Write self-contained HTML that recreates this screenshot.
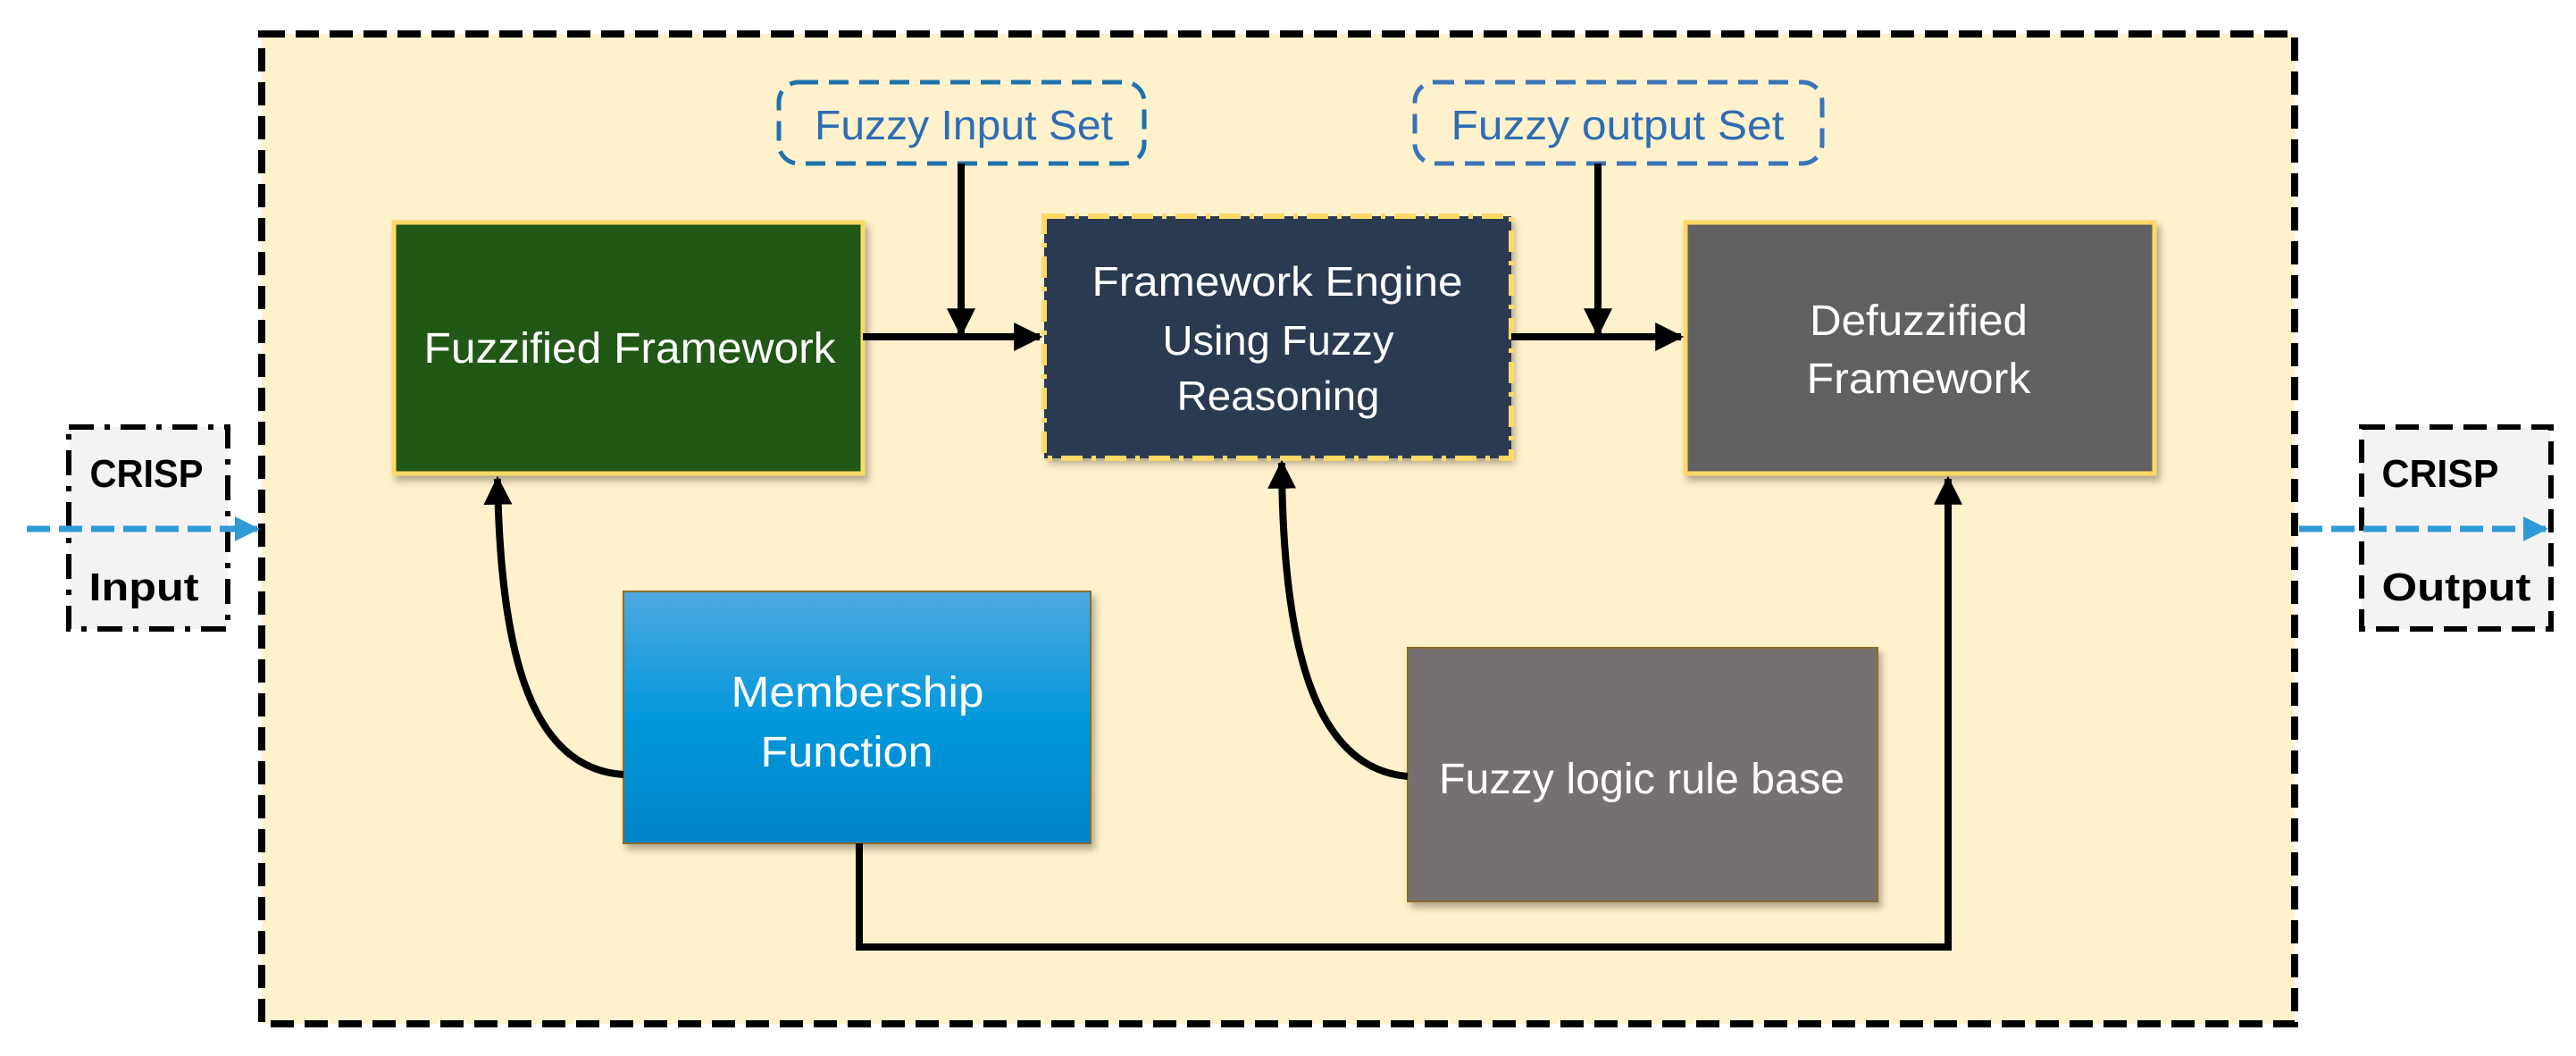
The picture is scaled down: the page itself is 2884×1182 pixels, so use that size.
<!DOCTYPE html>
<html><head><meta charset="utf-8"><style>
html,body{margin:0;padding:0;background:#fff}
svg{display:block}
text{font-family:"Liberation Sans Narrow","Liberation Sans",sans-serif}
</style></head><body>
<svg width="2884" height="1182" viewBox="0 0 2884 1182" xmlns="http://www.w3.org/2000/svg">
<defs>
<linearGradient id="mg" x1="0" y1="0" x2="0" y2="1">
<stop offset="0" stop-color="#4ea7de"/><stop offset="0.5" stop-color="#0399dc"/><stop offset="1" stop-color="#0582c6"/>
</linearGradient>
<marker id="ah" viewBox="0 0 10 10" refX="9" refY="5" markerWidth="4" markerHeight="4.5" orient="auto" markerUnits="strokeWidth"><path d="M0,0 L10,5 L0,10 z" fill="#000"/></marker>
<marker id="ahb" viewBox="0 0 10 10" refX="9" refY="5" markerWidth="4" markerHeight="4" orient="auto" markerUnits="strokeWidth"><path d="M0,0 L10,5 L0,10 z" fill="#2f9ad6"/></marker>
<filter id="sh" x="-5%" y="-5%" width="115%" height="115%"><feDropShadow dx="4" dy="6" stdDeviation="4" flood-color="#000" flood-opacity="0.3"/></filter>
</defs>
<rect x="293" y="38" width="2276" height="1108" fill="#fff1cc" stroke="#000" stroke-width="8" stroke-dasharray="26,12"/>
<rect x="77" y="478" width="178" height="226" fill="#f4f2f2" stroke="#000" stroke-width="6" stroke-dasharray="28,12,6,12"/>
<text x="164" y="545" font-size="44" font-weight="bold" text-anchor="middle" textLength="127" lengthAdjust="spacingAndGlyphs">CRISP</text>
<text x="161" y="672" font-size="44" font-weight="bold" text-anchor="middle" textLength="123" lengthAdjust="spacingAndGlyphs">Input</text>
<rect x="2644" y="478" width="212" height="226" fill="#f4f2f2" stroke="#000" stroke-width="6" stroke-dasharray="26,12"/>
<text x="2732" y="545" font-size="44" font-weight="bold" text-anchor="middle" textLength="131" lengthAdjust="spacingAndGlyphs">CRISP</text>
<text x="2750" y="672" font-size="44" font-weight="bold" text-anchor="middle" textLength="167" lengthAdjust="spacingAndGlyphs">Output</text>
<line x1="30" y1="592" x2="288" y2="592" stroke="#2f9ad6" stroke-width="7" stroke-dasharray="26,10" marker-end="url(#ahb)"/>
<line x1="2574" y1="592" x2="2850" y2="592" stroke="#2f9ad6" stroke-width="7" stroke-dasharray="26,10" marker-end="url(#ahb)"/>
<rect x="872" y="92" width="409" height="91" rx="22" fill="none" stroke="#1f72ac" stroke-width="5" stroke-dasharray="22,12"/>
<text x="1079" y="156" font-size="46" fill="#2e6db4" text-anchor="middle" textLength="334" lengthAdjust="spacingAndGlyphs">Fuzzy Input Set</text>
<rect x="1584" y="92" width="456" height="91" rx="22" fill="none" stroke="#3a74b8" stroke-width="5" stroke-dasharray="22,12"/>
<text x="1811" y="156" font-size="46" fill="#2e6db4" text-anchor="middle" textLength="373" lengthAdjust="spacingAndGlyphs">Fuzzy output Set</text>
<rect x="441" y="249" width="525" height="281" fill="#245919" stroke="#ffd966" stroke-width="5" filter="url(#sh)"/>
<text x="705" y="406" font-size="48" fill="#fff" text-anchor="middle" textLength="461" lengthAdjust="spacingAndGlyphs">Fuzzified Framework</text>
<rect x="1169" y="242" width="523" height="271" fill="#2a3b51" filter="url(#sh)"/>
<rect x="1169" y="242" width="523" height="271" fill="none" stroke="#ffd966" stroke-width="6" stroke-dasharray="24,10,5,10"/>
<text x="1430" y="331" font-size="46" fill="#fff" text-anchor="middle" textLength="415" lengthAdjust="spacingAndGlyphs">Framework Engine</text>
<text x="1431" y="397" font-size="46" fill="#fff" text-anchor="middle" textLength="259" lengthAdjust="spacingAndGlyphs">Using Fuzzy</text>
<text x="1431" y="459" font-size="46" fill="#fff" text-anchor="middle" textLength="227" lengthAdjust="spacingAndGlyphs">Reasoning</text>
<rect x="1887" y="249" width="525" height="281" fill="#616161" stroke="#ffd966" stroke-width="5" filter="url(#sh)"/>
<text x="2148" y="375" font-size="48" fill="#fff" text-anchor="middle" textLength="244" lengthAdjust="spacingAndGlyphs">Defuzzified</text>
<text x="2148" y="440" font-size="48" fill="#fff" text-anchor="middle" textLength="251" lengthAdjust="spacingAndGlyphs">Framework</text>
<rect x="698" y="662" width="523" height="282" fill="url(#mg)" stroke="#8a6d2a" stroke-width="2" filter="url(#sh)"/>
<text x="960" y="791" font-size="48" fill="#fff" text-anchor="middle" textLength="283" lengthAdjust="spacingAndGlyphs">Membership</text>
<text x="948" y="858" font-size="48" fill="#fff" text-anchor="middle" textLength="193" lengthAdjust="spacingAndGlyphs">Function</text>
<rect x="1576" y="725" width="526" height="284" fill="#767170" stroke="#8a6d2a" stroke-width="2" filter="url(#sh)"/>
<text x="1838" y="888" font-size="48" fill="#fff" text-anchor="middle" textLength="454" lengthAdjust="spacingAndGlyphs">Fuzzy logic rule base</text>
<g stroke="#000" stroke-width="8" fill="none">
<line x1="966" y1="377" x2="1164" y2="377" marker-end="url(#ah)"/>
<line x1="1692" y1="377" x2="1882" y2="377" marker-end="url(#ah)"/>
<line x1="1076" y1="183" x2="1076" y2="374" marker-end="url(#ah)"/>
<line x1="1789" y1="183" x2="1789" y2="374" marker-end="url(#ah)"/>
<path d="M698,867 C590,860 560,720 557,536" marker-end="url(#ah)"/>
<path d="M1576,869 C1470,860 1436,720 1435,518" marker-end="url(#ah)"/>
<path d="M962,944 L962,1060 L2181,1060 L2181,536" marker-end="url(#ah)"/>
</g>
</svg>
</body></html>
